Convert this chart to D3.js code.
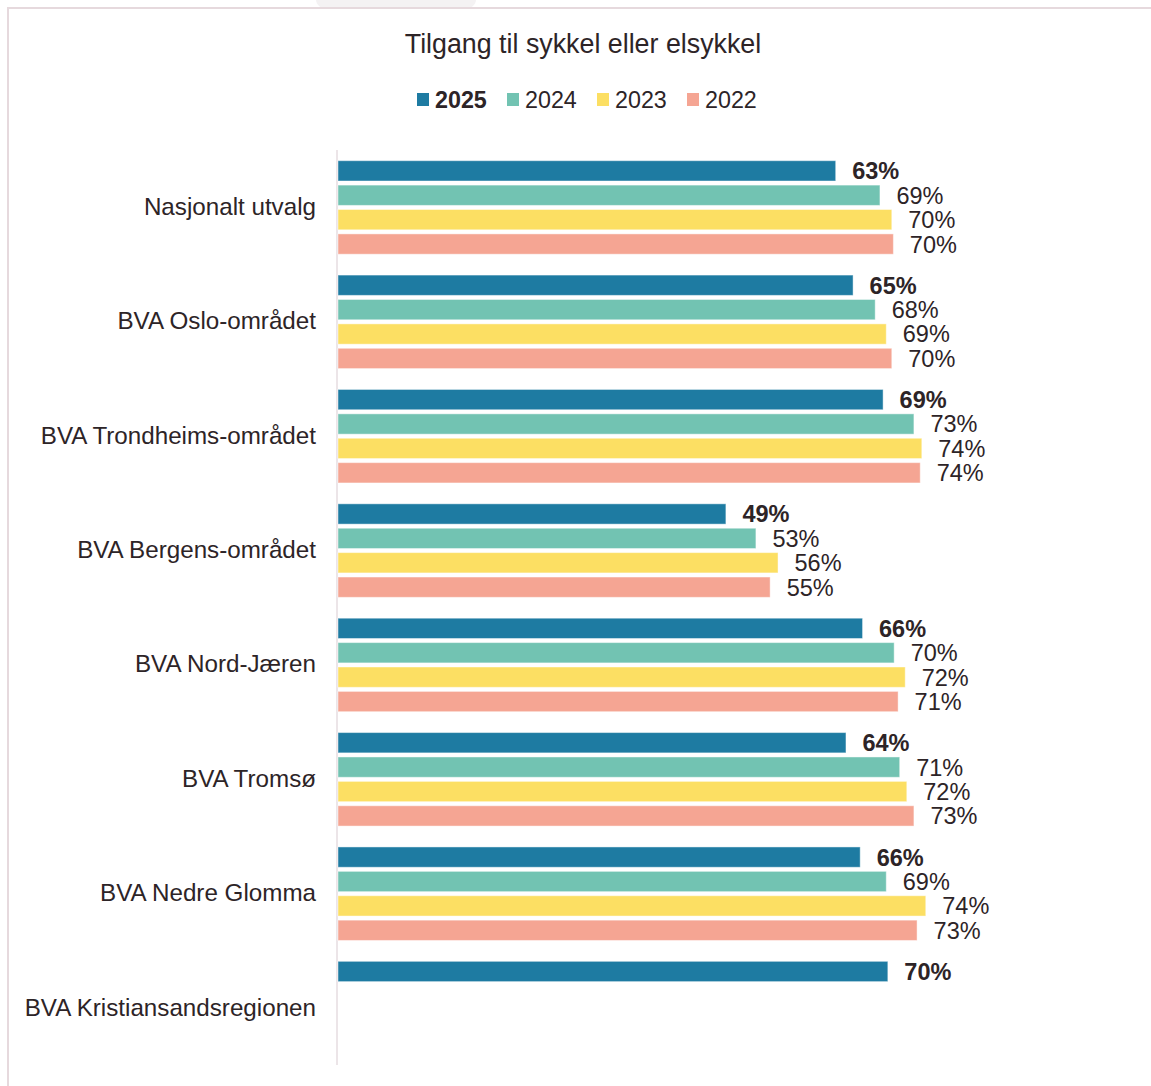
<!DOCTYPE html>
<html>
<head>
<meta charset="utf-8">
<script src="https://cdn.jsdelivr.net/npm/d3@7"></script>
<style>
  html, body { margin: 0; padding: 0; background: #fff; }
  svg { display: block; font-family: "Liberation Sans", Arial, sans-serif; }
</style>
</head>
<body>
<svg id="chart" width="1151" height="1086"></svg>
<script>
const title = "Tilgang til sykkel eller elsykkel";
const categories = [
  "Nasjonalt utvalg",
  "BVA Oslo-området",
  "BVA Trondheims-området",
  "BVA Bergens-området",
  "BVA Nord-Jæren",
  "BVA Tromsø",
  "BVA Nedre Glomma",
  "BVA Kristiansandsregionen"
];
const seriesNames = ["2025", "2024", "2023", "2022"];
const seriesColors = ["#1e7ba2", "#72c3b2", "#fcdf63", "#f5a593"];
const values2025 = [63.0, 65.2, 69.0, 49.1, 66.4, 64.3, 66.1, 69.6];
const values2024 = [68.6, 68.0, 72.9, 52.9, 70.4, 71.1, 69.4, null];
const values2023 = [70.1, 69.4, 73.9, 55.7, 71.8, 72.0, 74.4, null];
const values2022 = [70.3, 70.1, 73.7, 54.7, 70.9, 72.9, 73.3, null];
const seriesValues = [values2025, values2024, values2023, values2022];

const textColor = "#2d2427";
const svg = d3.select("#chart");

// frame
svg.append("ellipse").attr("cx", 396).attr("cy", 0).attr("rx", 80).attr("ry", 22)
  .attr("fill", "#f4f2f3");
svg.append("rect").attr("x", 0).attr("y", 8).attr("width", 1151).attr("height", 1078).attr("fill", "#fff");
svg.append("line").attr("x1", 7).attr("x2", 1151).attr("y1", 8).attr("y2", 8)
  .attr("stroke", "#e6d9dd").attr("stroke-width", 2);
svg.append("line").attr("x1", 8).attr("x2", 8).attr("y1", 8).attr("y2", 1086)
  .attr("stroke", "#e6d9dd").attr("stroke-width", 2);

// title
svg.append("text").attr("x", 583).attr("y", 53).attr("text-anchor", "middle")
  .attr("font-size", 26.8).attr("fill", textColor).text(title);

// legend
const legendX = d3.scaleBand().domain(seriesNames).range([417, 777]);
const lg = svg.append("g").selectAll("g").data(seriesNames).join("g")
  .attr("transform", d => `translate(${legendX(d)},0)`);
lg.append("rect").attr("x", 0).attr("y", 93).attr("width", 12).attr("height", 13)
  .attr("fill", (d, i) => seriesColors[i]);
lg.append("text").attr("x", 18).attr("y", 108).attr("font-size", 23.3)
  .attr("font-weight", (d, i) => i === 0 ? "bold" : "normal")
  .attr("fill", textColor).text(d => d);

// scales
const x = d3.scaleLinear().domain([0, 100]).range([338, 1128]);
const y = d3.scaleBand().domain(categories).range([150, 1065]).paddingInner(0).paddingOuter(0);
const yInner = d3.scaleBand().domain(seriesNames).range([10.7, 104.2]).paddingInner(0.168).paddingOuter(0);

// category labels
const yAxis = d3.axisLeft(y).tickSize(0).tickPadding(0);
const ga = svg.append("g").attr("transform", "translate(316,0)").call(yAxis);
ga.select(".domain").remove();
ga.selectAll("text").attr("font-size", 24.2).attr("fill", textColor)
  .attr("font-family", "Liberation Sans, Arial, sans-serif");

// axis line
svg.append("line").attr("x1", 337).attr("x2", 337).attr("y1", 150).attr("y2", 1065)
  .attr("stroke", "#e6dde0").attr("stroke-width", 1.5);

// bars
const rows = [];
categories.forEach((c, ci) => {
  seriesNames.forEach((s, si) => {
    const v = seriesValues[si][ci];
    if (v !== null && v !== undefined) rows.push({ c, s, si, v });
  });
});

const gb = svg.append("g");
gb.selectAll("rect").data(rows).join("rect")
  .attr("x", x(0))
  .attr("y", d => y(d.c) + yInner(d.s))
  .attr("width", d => x(d.v) - x(0))
  .attr("height", yInner.bandwidth())
  .attr("fill", d => seriesColors[d.si])
  .attr("stroke", "#ffffff").attr("stroke-opacity", 0.45).attr("stroke-width", 1);

gb.selectAll("text").data(rows).join("text")
  .attr("x", d => x(d.v) + 16.5)
  .attr("y", d => y(d.c) + yInner(d.s) + yInner.bandwidth() / 2)
  .attr("dy", "0.36em")
  .attr("font-size", 23.5)
  .attr("font-weight", d => d.si === 0 ? "bold" : "normal")
  .attr("fill", textColor)
  .text(d => Math.round(d.v) + "%");
</script>
</body>
</html>
